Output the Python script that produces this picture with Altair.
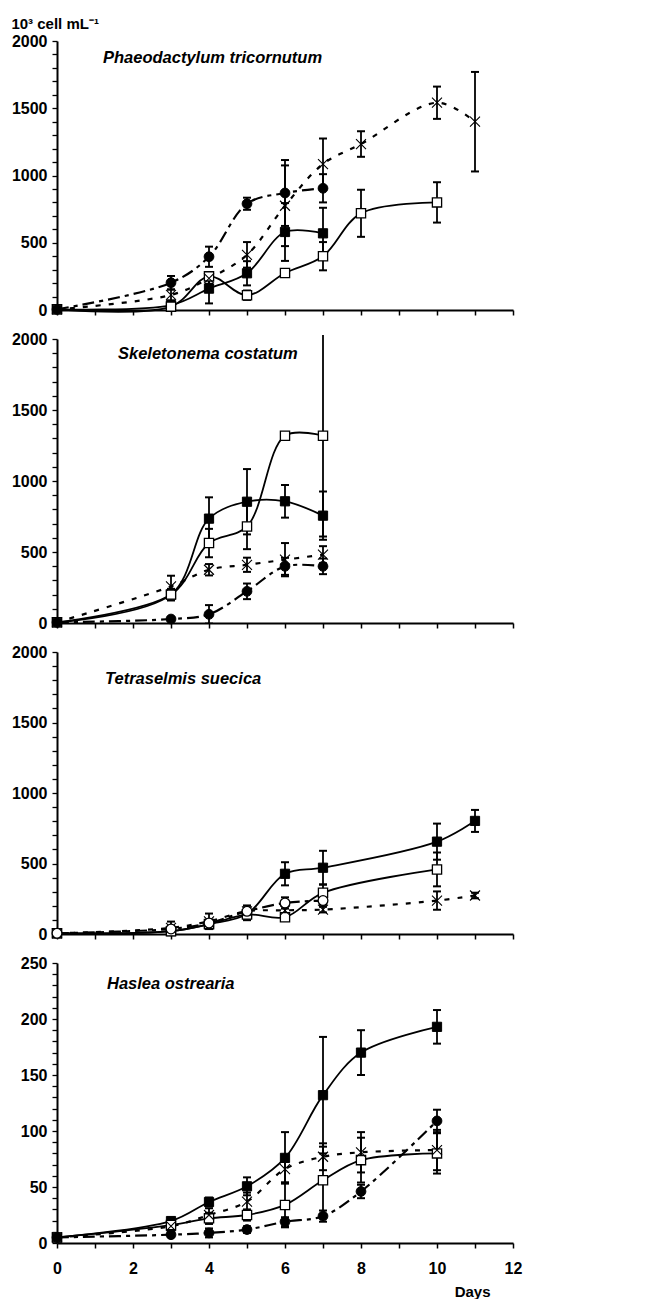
import altair as alt
import pandas as pd

FONT = "Liberation Sans, Arial, Helvetica, sans-serif"

Y_TITLE = "10³ cell mL⁻¹"
X_TITLE = "Days"
PANEL_TITLES = ["Phaeodactylum tricornutum", "Skeletonema costatum",
                "Tetraselmis suecica", "Haslea ostrearia"]
X_TICKS = list(range(0, 13))
Y_MAX = [2000, 2000, 2000, 250]
Y_STEP = [100, 100, 100, 10]
Y_LABEL_STEP = [500, 500, 500, 50]

# ---------- Panel 1: Phaeodactylum tricornutum ----------
p1_fsq_days = [0, 3, 4, 5, 6, 7]
p1_fsq_vals = [5, 37, 159, 273, 580, 570]
p1_fsq_err = [0, 10, 110, 90, 215, 190]
p1_osq_days = [0, 3, 4, 5, 6, 7, 8, 10]
p1_osq_vals = [5, 25, 250, 110, 275, 400, 719, 800]
p1_osq_err = [0, 5, 20, 35, 20, 105, 175, 150]
p1_x_days = [0, 3, 4, 5, 6, 7, 8, 10, 11]
p1_x_vals = [5, 112, 235, 410, 775, 1085, 1234, 1541, 1400]
p1_x_err = [0, 40, 40, 95, 300, 190, 95, 120, 370]
p1_fc_days = [0, 3, 4, 5, 6, 7]
p1_fc_vals = [5, 203, 396, 790, 870, 905]
p1_fc_err = [0, 50, 75, 45, 245, 105]

# ---------- Panel 2: Skeletonema costatum ----------
p2_fsq_days = [0, 3, 4, 5, 6, 7]
p2_fsq_vals = [5, 200, 735, 854, 857, 756]
p2_fsq_err = [0, 40, 150, 230, 115, 170]
p2_osq_days = [0, 3, 4, 5, 6, 7]
p2_osq_vals = [5, 200, 563, 680, 1319, 1319]
p2_osq_err = [0, 40, 100, 160, 20, 710]
p2_x_days = [0, 3, 4, 5, 6, 7]
p2_x_vals = [5, 258, 375, 410, 446, 481]
p2_x_err = [0, 75, 40, 50, 117, 60]
p2_fc_days = [0, 3, 4, 5, 6, 7]
p2_fc_vals = [5, 28, 61, 223, 399, 399]
p2_fc_err = [0, 10, 65, 55, 60, 55]

# ---------- Panel 3: Tetraselmis suecica ----------
p3_fsq_days = [0, 3, 4, 5, 6, 7, 10, 11]
p3_fsq_vals = [5, 20, 70, 142, 427, 470, 655, 802]
p3_fsq_err = [0, 10, 20, 40, 82, 120, 128, 78]
p3_osq_days = [0, 3, 4, 5, 6, 7, 10]
p3_osq_vals = [5, 20, 70, 138, 119, 292, 458]
p3_osq_err = [0, 10, 20, 40, 20, 60, 120]
p3_x_days = [0, 3, 4, 5, 6, 7, 10, 11]
p3_x_vals = [5, 43, 90, 161, 168, 173, 237, 273]
p3_x_err = [0, 45, 55, 40, 30, 20, 65, 20]
p3_oc_days = [0, 3, 4, 5, 6, 7]
p3_oc_vals = [5, 36, 78, 161, 220, 237]
p3_oc_err = [0, 15, 20, 40, 40, 30]

# ---------- Panel 4: Haslea ostrearia ----------
p4_fsq_days = [0, 3, 4, 5, 6, 7, 8, 10]
p4_fsq_vals = [5, 19.6, 36.6, 50.6, 76, 132, 170, 193]
p4_fsq_err = [0, 3, 4, 8, 23, 52, 20, 15]
p4_osq_days = [0, 3, 4, 5, 6, 7, 8, 10]
p4_osq_vals = [5, 16, 22, 25, 34, 56, 74, 80]
p4_osq_err = [0, 3, 5, 5, 20, 30, 20, 18]
p4_x_days = [0, 3, 4, 5, 6, 7, 8, 10]
p4_x_vals = [5, 15, 25, 37, 66, 77, 81, 83]
p4_x_err = [0, 4, 6, 8, 12, 12, 18, 18]
p4_fc_days = [0, 3, 4, 5, 6, 7, 8, 10]
p4_fc_vals = [5, 7.4, 9, 12, 19, 24, 46, 109]
p4_fc_err = [0, 2, 4, 3, 4, 5, 6, 10]

PANELS = [
    [("fsq", p1_fsq_days, p1_fsq_vals, p1_fsq_err), ("osq", p1_osq_days, p1_osq_vals, p1_osq_err),
     ("x", p1_x_days, p1_x_vals, p1_x_err), ("fc", p1_fc_days, p1_fc_vals, p1_fc_err)],
    [("fsq", p2_fsq_days, p2_fsq_vals, p2_fsq_err), ("osq", p2_osq_days, p2_osq_vals, p2_osq_err),
     ("x", p2_x_days, p2_x_vals, p2_x_err), ("fc", p2_fc_days, p2_fc_vals, p2_fc_err)],
    [("fsq", p3_fsq_days, p3_fsq_vals, p3_fsq_err), ("osq", p3_osq_days, p3_osq_vals, p3_osq_err),
     ("x", p3_x_days, p3_x_vals, p3_x_err), ("oc", p3_oc_days, p3_oc_vals, p3_oc_err)],
    [("fsq", p4_fsq_days, p4_fsq_vals, p4_fsq_err), ("osq", p4_osq_days, p4_osq_vals, p4_osq_err),
     ("x", p4_x_days, p4_x_vals, p4_x_err), ("fc", p4_fc_days, p4_fc_vals, p4_fc_err)],
]

# styles (not data)
LINE_DASH = {"fsq": None, "osq": None, "x": [5, 8], "fc": [12, 5, 4, 5], "oc": [12, 5, 4, 5]}
PANEL_H = [269, 284, 282, 280]
PANEL_W = 456
TITLE_POS = [(46, 22), (61, 20), (48, 32), (50, 26)]
X_SHAPE = "M-1,-1L1,1M-1,1L1,-1"


def marker(kind):
    if kind == "fsq":
        return dict(shape="square", filled=True, fill="black", stroke="black", strokeWidth=1, size=85, opacity=1)
    if kind == "osq":
        return dict(shape="square", filled=True, fill="white", stroke="black", strokeWidth=1.3, size=85, opacity=1)
    if kind == "x":
        return dict(shape=X_SHAPE, filled=False, stroke="black", strokeWidth=1.1, size=100, opacity=1)
    if kind == "fc":
        return dict(shape="circle", filled=True, fill="black", stroke="black", strokeWidth=1, size=95, opacity=1)
    return dict(shape="circle", filled=True, fill="white", stroke="black", strokeWidth=1.3, size=95, opacity=1)


def make_panel(i):
    ymax = Y_MAX[i]
    step = Y_STEP[i]
    lstep = Y_LABEL_STEP[i]
    last = (i == 3)
    xscale = alt.Scale(domain=[0, 12], nice=False, zero=False)
    yscale = alt.Scale(domain=[0, ymax], nice=False)
    if last:
        xaxis = alt.Axis(
            values=X_TICKS, grid=False, tickSize=5, tickWidth=1.5, domainWidth=2,
            domainColor="black", tickColor="black", labels=True,
            labelExpr="datum.value % 2 == 0 ? datum.label : ''",
            labelFontSize=16, labelFontWeight="bold", labelFont=FONT, labelColor="black",
            labelPadding=12, labelFlush=False, labelOverlap=False,
            title=X_TITLE,
        )
    else:
        xaxis = alt.Axis(
            values=X_TICKS, grid=False, tickSize=5, tickWidth=1.5, domainWidth=2,
            domainColor="black", tickColor="black", labels=False, title=None,
        )
    yaxis = alt.Axis(
        values=list(range(0, ymax + 1, step)), grid=False, tickSize=5, tickWidth=1.3,
        domainWidth=2, domainColor="black", tickColor="black",
        labelExpr="datum.value %% %d == 0 ? datum.label : ''" % lstep,
        format="d", labelFontSize=16, labelFontWeight="bold", labelFont=FONT,
        labelColor="black", labelPadding=5, title=None, labelFlush=False,
        labelOverlap=False,
    )
    layers = []
    rows = []
    for kind, days, vals, errs in PANELS[i]:
        for d, v, e in zip(days, vals, errs):
            rows.append(dict(kind=kind, day=d, val=v, lo=v - e, hi=v + e, err=e))
    df = pd.DataFrame(rows)
    xenc = alt.X("day:Q", scale=xscale, axis=xaxis)
    for kind, _, _, _ in PANELS[i]:
        sub = df[df.kind == kind]
        kw = dict(interpolate="catmull-rom", color="black", strokeWidth=1.8)
        if LINE_DASH[kind]:
            kw["strokeDash"] = LINE_DASH[kind]
            kw["strokeWidth"] = 2.2
        layers.append(alt.Chart(sub).mark_line(**kw).encode(
            x=xenc, y=alt.Y("val:Q", scale=yscale, axis=yaxis)))
    for kind, _, _, _ in PANELS[i]:
        sub = df[(df.kind == kind) & (df.err > 0)]
        layers.append(alt.Chart(sub).mark_rule(color="black", strokeWidth=1.8).encode(
            x=xenc, y=alt.Y("lo:Q", scale=yscale, axis=yaxis), y2="hi:Q"))
        for col in ["lo", "hi"]:
            layers.append(alt.Chart(sub).mark_tick(
                orient="horizontal", color="black", size=8, thickness=2, clip=True, opacity=1
            ).encode(x=xenc, y=alt.Y(col + ":Q", scale=yscale, axis=yaxis)))
    for kind, _, _, _ in PANELS[i]:
        sub = df[df.kind == kind]
        layers.append(alt.Chart(sub).mark_point(**marker(kind)).encode(
            x=xenc, y=alt.Y("val:Q", scale=yscale, axis=yaxis)))
    tdf = pd.DataFrame({"t": [PANEL_TITLES[i]]})
    tx, ty = TITLE_POS[i]
    layers.append(alt.Chart(tdf).mark_text(
        align="left", baseline="alphabetic", fontSize=16.5, fontWeight="bold",
        fontStyle="italic", font=FONT, color="black"
    ).encode(text="t:N", x=alt.value(tx), y=alt.value(ty)))
    ch = alt.layer(*layers).properties(width=PANEL_W, height=PANEL_H[i])
    return ch


panels = [make_panel(i) for i in range(4)]

chart = alt.vconcat(*panels, spacing=29, bounds="flush").properties(
    title=alt.TitleParams(Y_TITLE, anchor="start", fontSize=15, fontWeight="bold",
                          font=FONT, color="black", offset=1),
    padding={"left": 3, "top": 9, "right": 8, "bottom": 0},
).configure_view(stroke=None).configure_axis(
    labelOverlap=False,
).configure_axisX(
    titleFontSize=15, titleFontWeight="bold", titleFont=FONT, titleColor="black",
    titleAnchor="end", titleAlign="right", titleBaseline="top", titlePadding=2,
    titleX=433, titleY=41,
)

chart.save("out.html", embed_options={"renderer": "svg", "actions": False})
